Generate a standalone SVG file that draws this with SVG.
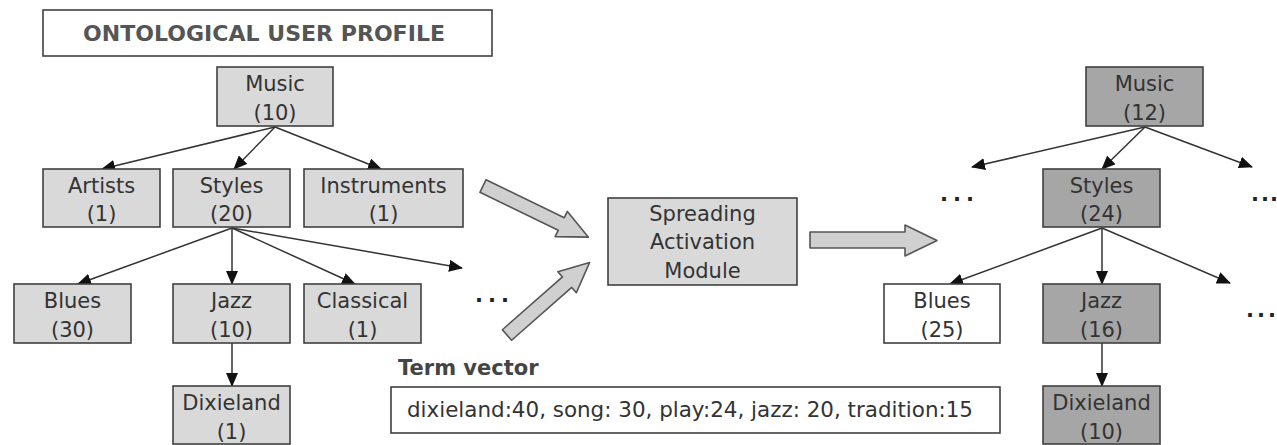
<svg xmlns="http://www.w3.org/2000/svg" width="1277" height="445" viewBox="0 0 1277 445">
<style>
  .box{stroke:#404040;stroke-width:1.6}
  .light{fill:#d9d9d9}
  .dark{fill:#a6a6a6}
  .white{fill:#ffffff}
  .t{font-family:"DejaVu Sans","Liberation Sans",sans-serif;font-size:21px;fill:#333;text-anchor:middle}
  .tl{font-family:"DejaVu Sans","Liberation Sans",sans-serif;font-size:21px;fill:#333}
  .dots{font-family:"DejaVu Sans",sans-serif;font-size:21px;font-weight:bold;fill:#222}
  .edge{stroke:#333;stroke-width:1.5;fill:none;marker-end:url(#ah)}
  .blk{fill:#d0d0d0;stroke:#555;stroke-width:1.6;stroke-linejoin:round}
</style>
<defs>
  <marker id="ah" markerWidth="14" markerHeight="12" refX="13" refY="6" orient="auto" markerUnits="userSpaceOnUse">
    <path d="M0,0 L14,6 L0,12 Z" fill="#111"/>
  </marker>
</defs>
<rect width="1277" height="445" fill="#fff"/>

<g id="title">
  <rect x="43" y="10" width="449" height="46" fill="#fff" class="box"/>
  <text x="83" y="41" textLength="362" lengthAdjust="spacingAndGlyphs" style="font-family:'DejaVu Sans',sans-serif;font-weight:bold;font-size:22px;fill:#555">ONTOLOGICAL USER PROFILE</text>
</g>

<g id="connectors">
  <line class="edge" x1="275" y1="127" x2="102" y2="169"/>
  <line class="edge" x1="275" y1="127" x2="234" y2="169"/>
  <line class="edge" x1="275" y1="127" x2="381" y2="169"/>
  <line class="edge" x1="232" y1="228" x2="78" y2="284"/>
  <line class="edge" x1="232" y1="228" x2="232" y2="284"/>
  <line class="edge" x1="232" y1="228" x2="355" y2="284"/>
  <line class="edge" x1="232" y1="228" x2="462" y2="268"/>
  <line class="edge" x1="232" y1="343" x2="232" y2="386"/>
  <line class="edge" x1="1145" y1="127" x2="972" y2="167"/>
  <line class="edge" x1="1145" y1="127" x2="1102" y2="169"/>
  <line class="edge" x1="1145" y1="127" x2="1252" y2="167"/>
  <line class="edge" x1="1102" y1="228" x2="950" y2="284"/>
  <line class="edge" x1="1102" y1="228" x2="1102" y2="284"/>
  <line class="edge" x1="1102" y1="228" x2="1230" y2="283"/>
  <line class="edge" x1="1102" y1="343" x2="1102" y2="386"/>
  <polygon class="blk" transform="translate(483,186) rotate(25.9)" points="0,-7 87,-7 87,-14 117,0 87,14 87,7 0,7"/>
  <polygon class="blk" transform="translate(507,335) rotate(-41.3)" points="0,-7 80,-7 80,-14 110,0 80,14 80,7 0,7"/>
  <polygon class="blk" points="810,232 905,232 905,225 937,240.5 905,256 905,248 810,248"/>
</g>

<g id="l-music"><rect x="217" y="67" width="116" height="59" class="box light"/><text class="t" x="275" y="91">Music</text><text class="t" x="275" y="120">(10)</text></g>
<g id="l-artists"><rect x="43" y="169" width="117" height="58" class="box light"/><text class="t" x="101.5" y="193">Artists</text><text class="t" x="101.5" y="221">(1)</text></g>
<g id="l-styles"><rect x="173" y="169" width="117" height="58" class="box light"/><text class="t" x="231.5" y="193">Styles</text><text class="t" x="231.5" y="221">(20)</text></g>
<g id="l-instruments"><rect x="304" y="169" width="159" height="58" class="box light"/><text class="t" x="383.5" y="193">Instruments</text><text class="t" x="383.5" y="221">(1)</text></g>
<g id="l-blues"><rect x="14" y="284" width="117" height="59" class="box light"/><text class="t" x="72.5" y="308">Blues</text><text class="t" x="72.5" y="337">(30)</text></g>
<g id="l-jazz"><rect x="173" y="284" width="117" height="59" class="box light"/><text class="t" x="231.5" y="308">Jazz</text><text class="t" x="231.5" y="337">(10)</text></g>
<g id="l-classical"><rect x="304" y="284" width="117" height="59" class="box light"/><text class="t" x="362.5" y="308">Classical</text><text class="t" x="362.5" y="337">(1)</text></g>
<g id="l-dixieland"><rect x="173" y="386" width="117" height="58" class="box light"/><text class="t" x="231.5" y="410">Dixieland</text><text class="t" x="231.5" y="439">(1)</text></g>
<text class="dots" x="475 488 501" y="302">...</text>

<g id="module"><rect x="608" y="198" width="189" height="87" class="box light"/><text class="t" x="702.5" y="221">Spreading</text><text class="t" x="702.5" y="249">Activation</text><text class="t" x="702.5" y="278">Module</text></g>

<g id="termvector">
  <text x="398" y="375" style="font-family:'DejaVu Sans',sans-serif;font-weight:bold;font-size:21px;fill:#444">Term vector</text>
  <rect x="391" y="387" width="609" height="46" fill="#fff" class="box"/>
  <text class="tl" x="407" y="417" textLength="566" lengthAdjust="spacingAndGlyphs">dixieland:40, song: 30, play:24, jazz: 20, tradition:15</text>
</g>

<g id="r-music"><rect x="1086" y="67" width="117" height="59" class="box dark"/><text class="t" x="1144.5" y="91">Music</text><text class="t" x="1144.5" y="120">(12)</text></g>
<g id="r-styles"><rect x="1043" y="169" width="117" height="58" class="box dark"/><text class="t" x="1101.5" y="193">Styles</text><text class="t" x="1101.5" y="221">(24)</text></g>
<g id="r-blues"><rect x="884" y="284" width="116" height="59" class="box white"/><text class="t" x="942" y="308">Blues</text><text class="t" x="942" y="337">(25)</text></g>
<g id="r-jazz"><rect x="1043" y="284" width="117" height="59" class="box dark"/><text class="t" x="1101.5" y="308">Jazz</text><text class="t" x="1101.5" y="337">(16)</text></g>
<g id="r-dixieland"><rect x="1043" y="386" width="117" height="58" class="box dark"/><text class="t" x="1101.5" y="410">Dixieland</text><text class="t" x="1101.5" y="439">(10)</text></g>
<text class="dots" x="940 953 966" y="201">...</text>
<text class="dots" x="1251 1261 1270" y="201">...</text>
<text class="dots" x="1246 1257 1268" y="317">...</text>
</svg>
